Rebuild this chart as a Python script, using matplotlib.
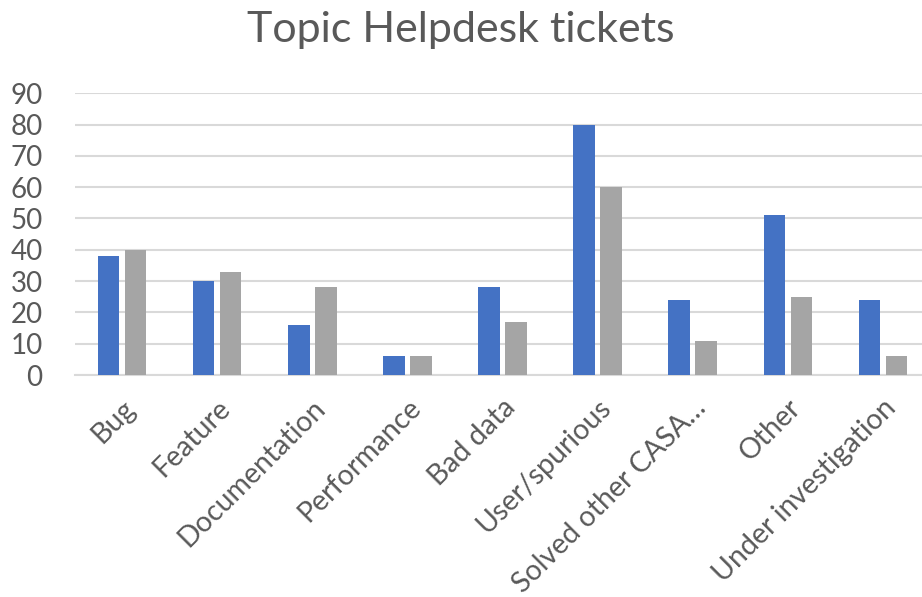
import matplotlib
matplotlib.use("Agg")
import matplotlib.pyplot as plt
import numpy as np

categories = ["Bug", "Feature", "Documentation", "Performance", "Bad data",
              "User/spurious", "Solved other CASA…", "Other", "Under investigation"]
series_a = [38, 30, 16, 6, 28, 80, 24, 51, 24]
series_b = [40, 33, 28, 6, 17, 60, 11, 25, 6]
yticks = [0, 10, 20, 30, 40, 50, 60, 70, 80, 90]

plt.rcParams['font.family'] = ['Lato', 'DejaVu Sans']
text_color = "#595959"

fig = plt.figure(figsize=(9.22, 5.97), dpi=100)
ax = fig.add_axes([74.5/922, 1-375/597, 856/922, (375-93.3)/597])

x = np.arange(len(categories))
w = 0.226
off = 0.142
ax.bar(x - off, series_a, width=w, color="#4472C4", zorder=3)
ax.bar(x + off, series_b, width=w, color="#A5A5A5", zorder=3)

ax.set_xlim(-0.5, len(categories) - 0.5)
ax.set_ylim(0, 90)
ax.set_yticks(yticks)
ax.yaxis.grid(True, color="#D9D9D9", linewidth=1.5, zorder=0)
ax.set_axisbelow(True)
for s in ["top", "right", "left"]:
    ax.spines[s].set_visible(False)
ax.spines["bottom"].set_color("#D9D9D9")
ax.spines["bottom"].set_linewidth(1.5)
ax.tick_params(axis="y", length=0, pad=23, labelsize=20, labelcolor=text_color)
ax.tick_params(axis="x", length=0, pad=14, labelsize=20.5, labelcolor=text_color)
ax.set_xticks(x)
ax.set_xticklabels(categories, rotation=45, ha="right", rotation_mode="anchor")

fig.text(0.5, 1 - 30/597, "Topic Helpdesk tickets", ha="center", va="center",
         fontsize=31, color=text_color)

fig.savefig("out.png", dpi=100)
